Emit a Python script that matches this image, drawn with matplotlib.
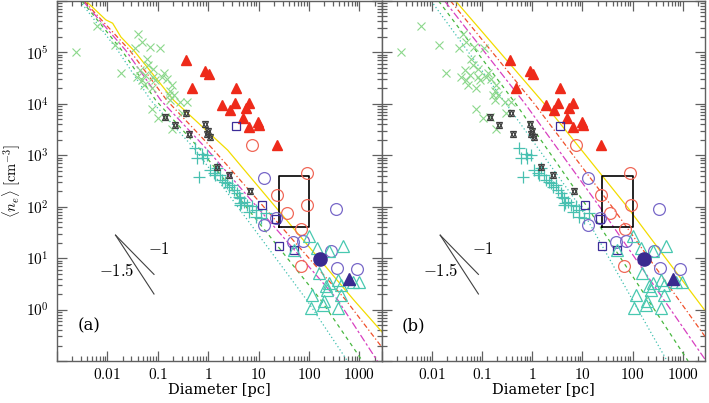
import numpy as np
import matplotlib
matplotlib.use('Agg')
import matplotlib.pyplot as plt
from matplotlib.ticker import FixedLocator, FuncFormatter, NullFormatter

plt.rcParams['font.family'] = ['DejaVu Serif']
plt.rcParams['mathtext.fontset'] = 'cm'

# --- observed regions (same in both panels) ---
cross_D = [0.0024, 0.0061, 0.014, 0.019, 0.041, 0.048, 0.035, 0.070, 0.111, 0.065,
           0.082, 0.0445, 0.056, 0.038, 0.048, 0.052, 0.076, 0.082, 0.12, 0.15,
           0.13, 0.19, 0.176, 0.163, 0.205, 0.176, 0.28, 0.076, 0.103, 0.14,
           0.19, 0.38, 0.060, 0.0885, 0.30]
cross_n = [1.0e5, 3.3e5, 1.37e5, 3.9e4, 2.3e5, 1.6e5, 1.2e5, 1.3e5, 1.2e5, 5.6e4,
           4.8e4, 4.5e4, 3.6e4, 3.3e4, 2.9e4, 2.3e4, 2.0e4, 3.3e4, 3.3e4, 3.1e4,
           3.9e4, 2.3e4, 1.8e4, 1.5e4, 1.5e4, 1.2e4, 1.1e4, 8.1e3, 5.2e3, 5.6e3,
           3.3e3, 1.1e4, 7.5e4, 2.9e4, 6.5e3]

plus_D = [0.55, 0.75, 0.95, 0.60, 0.80, 0.65, 1.10, 1.28, 1.50, 1.74, 1.88, 2.19, 2.37,
          2.56, 2.98, 3.21, 3.74, 4.0, 4.36, 4.5, 5.08, 5.93, 7.46, 8.7, 6.4, 8.7,
          11, 13.7, 1.39, 4.36]
plus_n = [1360, 1055, 1010, 870, 870, 384, 517, 446, 556, 413, 331, 307, 285,
          246, 264, 212, 182, 157, 146, 117, 126, 108, 101, 87, 80, 64,
          60, 75, 413, 108]

star_D = [0.14, 0.22, 0.41, 0.367, 0.88, 0.95, 1.07, 0.99, 1.50, 2.6, 6.7]
star_n = [5600, 3960, 2650, 6500, 4000, 2650, 2300, 3000, 600, 413, 205]

redtri_D = [0.366, 0.88, 1.05, 0.475, 3.63, 1.88, 3.32, 2.76, 6.4, 5.5, 4.87, 6.4,
            9.7, 10.1, 23.5]
redtri_n = [7.2e4, 4.3e4, 3.75e4, 2.07e4, 2.07e4, 9.4e3, 1.04e4, 7.5e3, 1.06e4,
            8.3e3, 5.2e3, 3.6e3, 4.5e3, 3.85e3, 1.58e3]

redcirc_D = [7.5, 23.5, 90, 36, 92, 70, 68]
redcirc_n = [1580, 169, 459, 77, 108, 37, 7.1]

bluecirc_D = [12.7, 12.7, 22, 47, 75, 341, 270, 360, 900]
bluecirc_n = [356, 44, 60, 21, 22, 89, 13.5, 6.4, 6.1]

bluesq_D = [3.63, 11.5, 22, 25, 50]
bluesq_n = [3700, 106, 58, 17.4, 14.6]

cyantri_D = [100, 50, 147, 251, 462, 158, 367, 251, 215, 428, 731, 993, 428, 117,
             232, 199, 185, 108, 367]
cyantri_n = [26.4, 14.1, 15.7, 13.5, 16.9, 5.1, 3.8, 3.3, 2.83, 3.05, 3.5, 3.5, 1.95,
             1.95, 2.44, 1.45, 1.25, 1.08, 1.08]

fillcirc_D, fillcirc_n = [168], [9.8]
filltri_D, filltri_n = [630], [4.0]

box_D = [25, 100]
box_n = [40, 400]

# --- model curves, panel (a) ---
a_yellow_D = [0.00375, 0.0093, 0.0127, 0.0185, 0.0335, 0.207, 2.43, 761, 2850]
a_yellow_n = [1e6, 4.3e5, 3.7e5, 2.0e5, 1.09e5, 1.17e4, 1.26e3, 1.56, 0.36]
a_red_D = [0.00343, 0.0279, 0.151, 1.29, 528, 2850]
a_red_n = [1e6, 1.09e5, 1.17e4, 1.26e3, 1.56, 0.18]
a_magenta_D = [0.00327, 0.0232, 0.115, 0.977, 367, 2270]
a_magenta_n = [1e6, 1.09e5, 1.17e4, 1.26e3, 1.56, 0.1]
a_green_D = [0.00313, 0.0194, 0.0912, 0.71, 169, 1146]
a_green_n = [1e6, 1.09e5, 1.17e4, 1.26e3, 1.56, 0.1]
a_cyan_D = [0.00285, 0.0161, 0.0726, 0.565, 89, 578]
a_cyan_n = [1e6, 1.09e5, 1.17e4, 1.26e3, 1.56, 0.1]

# --- model curves, panel (b) ---
b_yellow_D = [0.0295, 1.74, 78, 2700]
b_yellow_n = [1e6, 1e4, 100, 1.0]
b_red_D = [0.0234, 1.1, 39, 2800]
b_red_n = [1e6, 1e4, 100, 0.30]
b_magenta_D = [0.0178, 0.72, 22, 2950]
b_magenta_n = [1e6, 1e4, 100, 0.1]
b_green_D = [0.0135, 0.47, 12.4, 1285]
b_green_n = [1e6, 1e4, 100, 0.1]
b_cyan_D = [0.0096, 0.30, 9, 215, 491]
b_cyan_n = [1e6, 1e4, 100, 0.41, 0.1]

slope_start = (0.0145, 28.0)
slope_end_D = 0.084
slopes = [-1.0, -1.5]

xtick_vals = [0.01, 0.1, 1, 10, 100, 1000]
xtick_text = ['0.01', '0.1', '1', '10', '100', '1000']
ytick_vals = [1, 10, 100, 1e3, 1e4, 1e5]

spine_col = '#606060'


def xfmt(v, pos):
    for t, s in zip(xtick_vals, xtick_text):
        if abs(np.log10(v) - np.log10(t)) < 0.01:
            return r'$%s$' % s
    return ''


def yfmt(v, pos):
    for t in ytick_vals:
        if abs(np.log10(v) - np.log10(t)) < 0.01:
            return r'$10^{%d}$' % round(np.log10(t))
    return ''


def draw_panel(ax, curves, tag, show_y):
    # model tracks
    styles = [('#f2dc00', '-'), ('#f0502a', (0, (4, 2, 1, 2))),
              ('#d840c0', (0, (6, 2, 2, 2))), ('#48b840', (0, (3, 3))),
              ('#40c0b0', (0, (1, 2)))]
    for (D, n), (c, ls) in zip(curves, styles):
        ax.plot(D, n, color=c, ls=ls, lw=0.9, zorder=2)

    ax.plot(cross_D, cross_n, 'x', ms=5.5, mew=0.8, color='#8cd88c', zorder=3)
    ax.plot(plus_D, plus_n, '+', ms=8, mew=0.9, color='#48c0b0', zorder=3)
    for m in ['^', 'v']:
        ax.plot(star_D, star_n, m, ms=5, mew=0.9, mfc='none', mec='#404040', zorder=4)
    ax.plot(redtri_D, redtri_n, '^', ms=7, color='#ee2a1a', zorder=4)
    ax.plot(redcirc_D, redcirc_n, 'o', ms=8.5, mew=0.9, mfc='none', mec='#f06858', zorder=4)
    ax.plot(bluecirc_D, bluecirc_n, 'o', ms=8.5, mew=0.9, mfc='none', mec='#7868c8', zorder=4)
    ax.plot(bluesq_D, bluesq_n, 's', ms=6, mew=0.9, mfc='none', mec='#3c2c98', zorder=4)
    ax.plot(cyantri_D, cyantri_n, '^', ms=8, mew=0.9, mfc='none', mec='#48c8b0', zorder=4)
    ax.plot(fillcirc_D, fillcirc_n, 'o', ms=9.5, color='#3a2a90', zorder=5)
    ax.plot(filltri_D, filltri_n, '^', ms=8, color='#3a2a90', zorder=5)

    # the box
    ax.plot([box_D[0], box_D[1], box_D[1], box_D[0], box_D[0]],
            [box_n[0], box_n[0], box_n[1], box_n[1], box_n[0]],
            color='black', lw=1.2, zorder=3)

    # slope guides
    x0, y0 = slope_start
    for s in slopes:
        ax.plot([x0, slope_end_D], [y0, y0 * (slope_end_D / x0) ** s],
                color='#404040', lw=0.8)
    ax.text(0.105, 14.5, r'$-1$', fontsize=12, ha='center', va='center')
    ax.text(0.0150, 5.4, r'$-1.5$', fontsize=12, ha='center', va='center')

    ax.text(0.098, 0.097, tag, transform=ax.transAxes, fontsize=12,
            ha='center', va='center')

    ax.set_xscale('log')
    ax.set_yscale('log')
    ax.set_xlim(1e-3, 2800)
    ax.set_ylim(0.1, 1e6)

    ax.xaxis.set_major_locator(FixedLocator([1e-3] + xtick_vals))
    ax.xaxis.set_major_formatter(FuncFormatter(xfmt))
    ax.yaxis.set_major_locator(FixedLocator([0.1] + ytick_vals + [1e6]))
    ax.yaxis.set_major_formatter(FuncFormatter(yfmt))
    ax.xaxis.set_minor_formatter(NullFormatter())
    ax.yaxis.set_minor_formatter(NullFormatter())

    ax.tick_params(which='both', direction='in', top=True, right=True,
                   color=spine_col, width=0.9, labelsize=11)
    ax.tick_params(which='major', length=7)
    ax.tick_params(which='minor', length=3.5)
    ax.tick_params(axis='x', pad=4)
    ax.tick_params(axis='y', pad=6, labelleft=show_y)
    for sp in ax.spines.values():
        sp.set_color(spine_col)
        sp.set_linewidth(1.0)

    ax.set_xlabel('Diameter [pc]', fontsize=10.5)
    ax.xaxis.set_label_coords(0.5, -0.062)
    if show_y:
        ax.set_ylabel(r'$\langle n_e\rangle\ \mathrm{[cm^{-3}]}$', fontsize=10.5)
        ax.yaxis.set_label_coords(-0.105, 0.5)


fig = plt.figure(figsize=(7.09, 4.03), dpi=100)
ax_a = fig.add_axes([0.0804, 0.1042, 0.4584, 0.8933])
ax_b = fig.add_axes([0.5388, 0.1042, 0.4556, 0.8933])

curves_a = [(a_yellow_D, a_yellow_n), (a_red_D, a_red_n), (a_magenta_D, a_magenta_n),
            (a_green_D, a_green_n), (a_cyan_D, a_cyan_n)]
curves_b = [(b_yellow_D, b_yellow_n), (b_red_D, b_red_n), (b_magenta_D, b_magenta_n),
            (b_green_D, b_green_n), (b_cyan_D, b_cyan_n)]

draw_panel(ax_a, curves_a, '(a)', True)
draw_panel(ax_b, curves_b, '(b)', False)

fig.savefig('out.png', dpi=100)
